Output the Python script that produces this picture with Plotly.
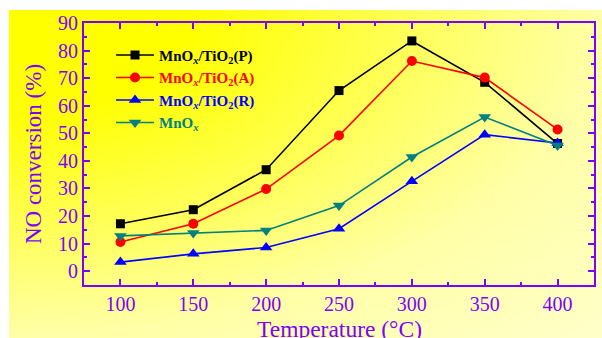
import base64
import math
import struct
import zlib

import plotly.graph_objects as go

# NO conversion (%) versus reaction temperature for the four catalysts
temperature = [100, 150, 200, 250, 300, 350, 400]
conv_p = [17.2, 22.3, 36.8, 65.5, 83.5, 68.5, 46.3]
conv_a = [10.6, 17.2, 29.8, 49.2, 76.2, 70.2, 51.4]
conv_r = [3.3, 6.3, 8.6, 15.4, 32.6, 49.5, 46.5]
conv_mnox = [12.8, 13.9, 14.8, 23.8, 41.4, 55.9, 45.6]

names = [
    '<b><span style="color:#000000">MnO<sub><i>x</i></sub>/TiO<sub>2</sub>(P)</span></b>',
    '<b><span style="color:#ff0000">MnO<sub><i>x</i></sub>/TiO<sub>2</sub>(A)</span></b>',
    '<b><span style="color:#0000ff">MnO<sub><i>x</i></sub>/TiO<sub>2</sub>(R)</span></b>',
    '<b><span style="color:#008080">MnO<sub><i>x</i></sub></span></b>',
]
colors = ["#000000", "#ff0000", "#0000ff", "#008080"]
symbols = ["square", "circle", "triangle-up", "triangle-down"]
sizes = [9, 10, 11, 11]
series = [conv_p, conv_a, conv_r, conv_mnox]

PURPLE = "#7f00ff"
FONT = "Liberation Serif, Times New Roman, serif"


def gradient_png(w, h):
    """Small PNG of a yellow-to-cream gradient spreading from the top-left corner."""
    rows = b""
    for j in range(h):
        row = bytearray([0])
        for i in range(w):
            d = math.hypot(i / (w - 1), j / (h - 1))
            if d < 0.3:
                b = 0.0
            elif d < 1.0:
                b = (d - 0.3) / 0.7 * 168
            else:
                b = 168 + (d - 1.0) / 0.414 * 34
            row += bytes([255, 255, int(max(0, min(255, b)))])
        rows += bytes(row)
    def chunk(tag, data):
        c = struct.pack(">I", len(data)) + tag + data
        return c + struct.pack(">I", zlib.crc32(tag + data) & 0xFFFFFFFF)
    png = b"\x89PNG\r\n\x1a\n"
    png += chunk(b"IHDR", struct.pack(">IIBBBBB", w, h, 8, 2, 0, 0, 0))
    png += chunk(b"IDAT", zlib.compress(rows, 9))
    png += chunk(b"IEND", b"")
    return "data:image/png;base64," + base64.b64encode(png).decode()


fig = go.Figure()
for vals, name, col, sym, sz in zip(series, names, colors, symbols, sizes):
    fig.add_trace(go.Scatter(
        x=temperature, y=vals, name=name, mode="lines+markers",
        line=dict(color=col, width=1.6),
        marker=dict(symbol=sym, size=sz, color=col),
    ))

W, H = 602, 338
L, R, T, B = 84, 8, 23, 53
pw, ph = W - L - R, H - T - B

fig.add_layout_image(dict(
    source=gradient_png(120, 68), xref="paper", yref="paper",
    x=(9 - L) / pw, y=(H - B - 10) / ph,
    sizex=(W - 9) / pw, sizey=(H - 10) / ph,
    xanchor="left", yanchor="top", sizing="stretch", layer="below",
))

# x-axis title placed just below the tick labels, running off the bottom edge
fig.add_annotation(
    text="Temperature (°C)", xref="paper", yref="paper",
    x=0.5, y=(H - B - 315) / ph, xanchor="center", yanchor="top",
    showarrow=False, borderpad=0,
    font=dict(family=FONT, size=23.5, color=PURPLE),
)

axis_common = dict(
    showline=True, linecolor=PURPLE, linewidth=2, mirror="ticks",
    ticks="inside", ticklen=6, tickwidth=1.5, tickcolor=PURPLE,
    showgrid=False, zeroline=False, automargin=False,
    tickfont=dict(family=FONT, size=20, color=PURPLE),
)

fig.update_layout(
    width=W, height=H,
    margin=dict(l=L, r=R, t=T, b=B, autoexpand=False),
    paper_bgcolor="white", plot_bgcolor="rgba(0,0,0,0)",
    xaxis=dict(
        range=[75, 425], tickvals=[100, 150, 200, 250, 300, 350, 400],
        minor=dict(ticks="inside", ticklen=3, tickwidth=1.5, tickcolor=PURPLE, dtick=25, tick0=75),
        **axis_common,
    ),
    yaxis=dict(
        range=[-5, 90], tickvals=list(range(0, 91, 10)),
        minor=dict(ticks="inside", ticklen=3, tickwidth=1.5, tickcolor=PURPLE, dtick=5, tick0=0),
        title=dict(text="NO conversion (%)", font=dict(family=FONT, size=23, color=PURPLE), standoff=10),
        **axis_common,
    ),
    legend=dict(
        x=0.053, y=0.94, xanchor="left", yanchor="top",
        bgcolor="rgba(0,0,0,0)", borderwidth=0,
        font=dict(family=FONT, size=15, color="black"),
        itemwidth=38, tracegroupgap=0,
    ),
    showlegend=True,
)

fig.write_html("out.html")
